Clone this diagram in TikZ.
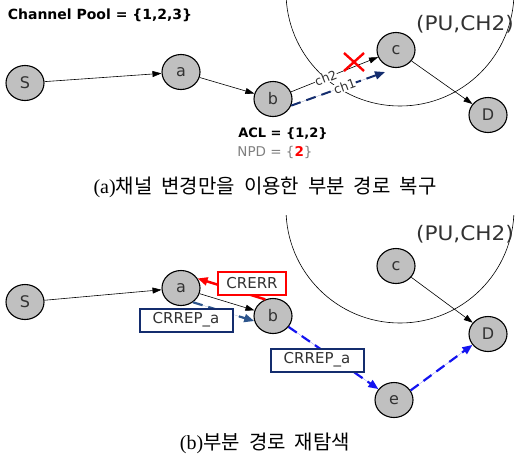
\documentclass[tikz,border=0pt]{standalone}
\usepackage{fontspec}
\usepackage{graphicx}
\setmainfont{DejaVu Sans}
\newfontfamily\krfont{Noto Sans CJK KR}
\newfontfamily\serfont{Liberation Serif}
\usetikzlibrary{shapes.geometric,arrows.meta}
\definecolor{nodegray}{RGB}{192,192,192}
\definecolor{txtgray}{RGB}{50,50,50}
\definecolor{navyc}{RGB}{20,45,110}
\definecolor{steelc}{RGB}{45,85,140}
\definecolor{bluec}{RGB}{20,20,240}
\begin{document}
\begin{tikzpicture}[x=1pt,y=-1pt,
  nd/.style={ellipse,draw=black,line width=1.1pt,fill=nodegray,minimum width=38pt,minimum height=35pt,inner sep=0pt,font=\fontsize{16}{16}\selectfont,text=txtgray},
  arr/.style={-{Triangle[length=9pt,width=6pt]},line width=0.6pt},
  bdash/.style={line width=2.2pt,dash pattern=on 10pt off 6pt,-{Triangle[length=10pt,width=8pt]}},
  msgbox/.style={draw,line width=2pt,fill=white,text=txtgray,font=\fontsize{15}{15}\selectfont,minimum width=68pt,minimum height=23pt,inner sep=2pt},
  chlab/.style={sloped,fill=white,inner sep=0.3pt,text=txtgray,font=\fontsize{12.5}{12.5}\selectfont},
  pu/.style={inner sep=0pt,font=\fontsize{20}{20}\selectfont,text=txtgray},
  captext/.style={font=\fontsize{20}{20}\selectfont,text=black}
]
\useasboundingbox (0,0) rectangle (526,456);
% ---------- top panel ----------
\begin{scope}
\clip (0,0) rectangle (526,200);
\draw[line width=0.6pt] (400,-8) circle (114);
\end{scope}
\node[pu] (pu1) at (465,24) {\scalebox{1.08}[1]{(PU,CH2)}};
\node[font=\bfseries\fontsize{14}{14}\selectfont] (pool) at (100,15) {Channel Pool = \{1,2,3\}};
\node[nd] (S1) at (25,83) {S};
\node[nd] (a1) at (181,72) {a};
\node[nd] (b1) at (273,99) {b};
\node[nd] (c1) at (396,50) {c};
\node[nd] (D1) at (488,115) {D};
\coordinate (ch1end) at (385,72);
\draw[arr] (S1) -- (a1);
\draw[arr] (a1) -- (b1);
\draw[arr] (b1) -- node[chlab,pos=0.40] (ch2lab) {ch2} (c1);
\draw[bdash,draw=navyc,fill=navyc,line width=2pt] (b1.-20) -- node[chlab,pos=0.57] (ch1lab) {ch1} (ch1end);
\draw[arr] (c1) -- (D1);
\coordinate (xc) at (354,62);
\draw[red,line width=2.4pt] ([shift={(-10,-9)}]xc) -- ([shift={(10,9)}]xc)
  ([shift={(-10,9)}]xc) -- ([shift={(10,-9)}]xc);
\node[font=\bfseries\fontsize{13}{13}\selectfont] (acl) at (283,134) {ACL = \{1,2\}};
\node[font=\fontsize{13.5}{13.5}\selectfont,text=gray] (npd) at (275,152) {NPD = \{{\bfseries\textcolor{red}{2}}\}};
\node[captext] (capa) at (265,187) {{\serfont (a)}{\krfont 채널\ \ 변경만을\ \ 이용한\ \ 부분\ \ 경로\ \ 복구}};
% ---------- bottom panel ----------
\begin{scope}
\clip (0,215) rectangle (526,456);
\draw[line width=0.6pt] (400,209) circle (114);
\end{scope}
\node[pu] (pu2) at (465,234) {\scalebox{1.08}[1]{(PU,CH2)}};
\node[nd] (S2) at (25,302) {S};
\node[nd] (a2) at (181,288) {a};
\node[nd] (b2) at (273,316) {b};
\node[nd] (c2) at (396,266) {c};
\node[nd] (D2) at (488,334) {D};
\node[nd] (e2) at (394,400) {e};
\draw[arr] (S2) -- (a2);
\draw[arr] (a2) -- (b2);
\draw[arr] (c2) -- (D2);
\draw[red,line width=2.5pt,-{Triangle[length=10pt,width=8pt]}] (b2.115) -- (a2.30);
\draw[bdash,draw=steelc,fill=steelc] (a2.-50) -- (b2.195);
\draw[bdash,draw=bluec,fill=bluec] (b2.-35) -- (e2.145);
\draw[bdash,draw=bluec,fill=bluec] (e2.30) -- (D2.215);
\node[msgbox,draw=red] (crerr) at (252,283) {CRERR};
\node[msgbox,draw=navyc,minimum width=93pt] (crrep1) at (186,320) {CRREP\_a};
\node[msgbox,draw=navyc,minimum width=93pt] (crrep2) at (317,360) {CRREP\_a};
\node[captext] (capb) at (265,443) {{\serfont (b)}{\krfont 부분\ \ 경로\ \ 재탐색}};
\end{tikzpicture}
\end{document}
